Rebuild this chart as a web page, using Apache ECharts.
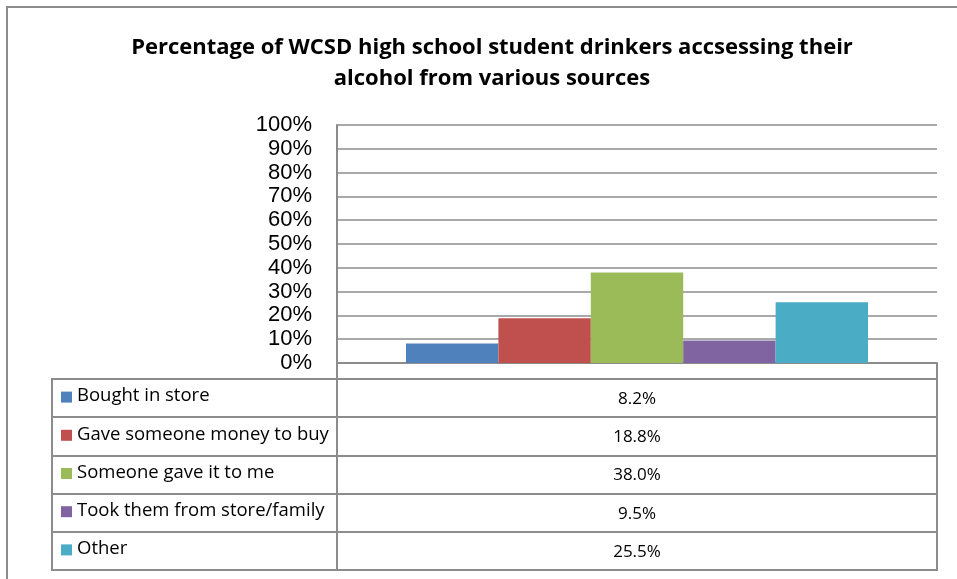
<!DOCTYPE html>
<html>
<head>
<meta charset="utf-8">
<title>Alcohol sources</title>
<script src="https://cdn.jsdelivr.net/npm/echarts@6/dist/echarts.min.js"></script>
<style>
  html, body { margin: 0; padding: 0; background: #fff; }
  #chart { width: 957px; height: 579px; }
</style>
</head>
<body>
<div id="chart"></div>
<script>
// Sources of alcohol reported by student drinkers (percent)
const titleText = 'Percentage of WCSD high school student drinkers accsessing their\nalcohol from various sources';
const sources = ['Bought in store', 'Gave someone money to buy', 'Someone gave it to me', 'Took them from store/family', 'Other'];
const shares = [8.2, 18.8, 38.0, 9.5, 25.5];
const colors = ['#4F81BD', '#C0504D', '#9BBB59', '#8064A2', '#4BACC6'];
const yTicks = { min: 0, max: 100, interval: 10 };

const gray = '#8c8c8c';
const textFont = '"Open Sans", Lato, sans-serif';

const chart = echarts.init(document.getElementById('chart'), null, { renderer: 'canvas' });

// one bar series per source, all in a single unnamed category
const barSeries = sources.map((name, i) => ({
  type: 'bar',
  name: name,
  xAxisIndex: 0,
  yAxisIndex: 0,
  data: [shares[i]],
  barGap: '0%',
  barCategoryGap: '23%',
  itemStyle: { color: colors[i] },
  animation: false
}));

// data table rows: legend key + name on the left, value on the right
const rowsData = sources.map((name, i) => [0, i]);

const labelColumn = {
  type: 'custom',
  xAxisIndex: 1,
  yAxisIndex: 1,
  data: rowsData,
  animation: false,
  renderItem: function (params, api) {
    const idx = api.value(1);
    const p = api.coord([0, idx]);
    return {
      type: 'group',
      children: [
        { type: 'rect', shape: { x: p[0] + 9, y: p[1] - 6.5, width: 11, height: 11 }, style: { fill: colors[idx] } },
        { type: 'text', x: p[0] + 25, y: p[1] - 2, style: { text: sources[idx], fill: '#000', font: '18.5px ' + textFont, verticalAlign: 'middle', align: 'left' } }
      ]
    };
  }
};

const valueColumn = {
  type: 'custom',
  xAxisIndex: 2,
  yAxisIndex: 2,
  data: rowsData,
  animation: false,
  renderItem: function (params, api) {
    const idx = api.value(1);
    const p = api.coord([0.5, idx]);
    return {
      type: 'text', x: p[0], y: p[1] + 1,
      style: { text: shares[idx].toFixed(1) + '%', fill: '#000', font: '17px ' + textFont, verticalAlign: 'middle', align: 'center' }
    };
  }
};

const rowAxis = (gridIndex) => ({
  type: 'category',
  gridIndex: gridIndex,
  data: sources,
  inverse: true,
  axisLine: { show: false },
  axisTick: { show: false },
  axisLabel: { show: false },
  splitLine: { show: true, lineStyle: { color: gray, width: 2 } }
});

const colAxis = (gridIndex) => ({
  type: 'value',
  gridIndex: gridIndex,
  min: 0, max: 1,
  show: false,
  splitLine: { show: false }
});

chart.setOption({
  backgroundColor: '#fff',
  animation: false,
  title: {
    text: titleText,
    left: 487,
    textAlign: 'center',
    top: 27,
    textStyle: { fontFamily: textFont, fontWeight: 'bold', fontSize: 22, lineHeight: 31, color: '#000' }
  },
  graphic: [
    { type: 'rect', shape: { x: 7, y: 7, width: 1000, height: 1000 }, style: { fill: 'none', stroke: gray, lineWidth: 2 }, silent: true }
  ],
  grid: [
    { left: 337, top: 125, width: 600, height: 238, containLabel: false },
    { left: 52, top: 379, width: 285, height: 191, show: true, borderColor: gray, borderWidth: 2, backgroundColor: 'transparent' },
    { left: 337, top: 379, width: 600, height: 191, show: true, borderColor: gray, borderWidth: 2, backgroundColor: 'transparent' }
  ],
  xAxis: [
    {
      type: 'category',
      gridIndex: 0,
      data: [''],
      axisLine: { show: true, lineStyle: { color: gray, width: 2 } },
      axisTick: { show: true, length: 16, lineStyle: { color: gray, width: 2 } },
      axisLabel: { show: false },
      splitLine: { show: false }
    },
    colAxis(1),
    colAxis(2)
  ],
  yAxis: [
    {
      type: 'value',
      gridIndex: 0,
      min: yTicks.min,
      max: yTicks.max,
      interval: yTicks.interval,
      axisLine: { show: true, lineStyle: { color: gray, width: 2 } },
      axisTick: { show: false },
      axisLabel: { formatter: '{value}%', fontFamily: '"Liberation Sans", Arial, sans-serif', fontSize: 22, color: '#000', margin: 25 },
      splitLine: { show: true, lineStyle: { color: gray, width: 1.5 } }
    },
    rowAxis(1),
    rowAxis(2)
  ],
  series: barSeries.concat([labelColumn, valueColumn])
});
</script>
</body>
</html>
